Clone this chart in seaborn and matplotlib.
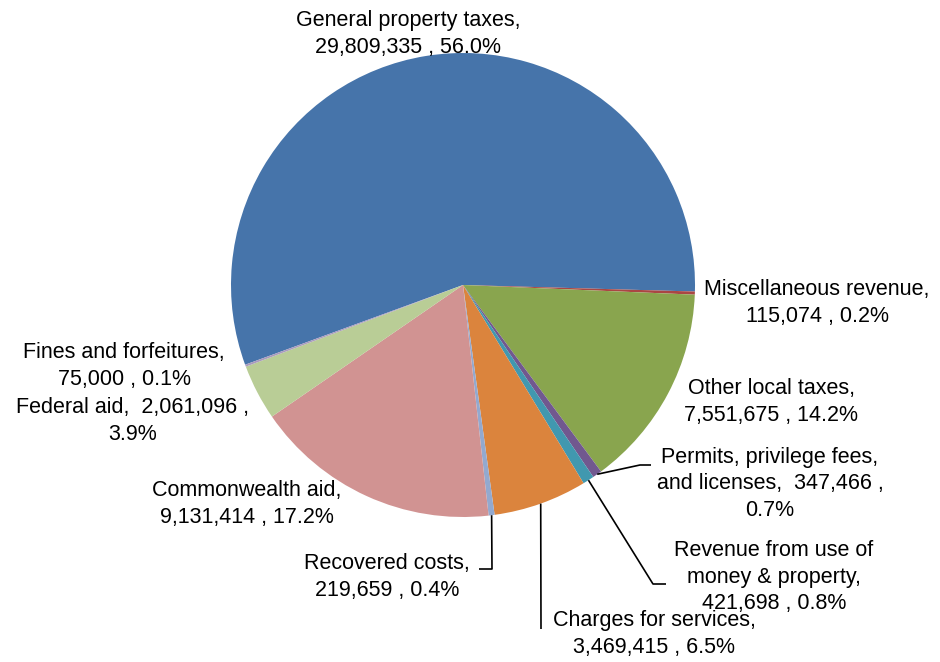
import matplotlib
matplotlib.use("Agg")
import matplotlib.pyplot as plt
import numpy as np
import seaborn as sns

# Revenue sources, in pie order (clockwise)
categories = [
    "General property taxes",
    "Miscellaneous revenue",
    "Other local taxes",
    "Permits, privilege fees,\nand licenses",
    "Revenue from use of\nmoney & property",
    "Charges for services",
    "Recovered costs",
    "Commonwealth aid",
    "Federal aid",
    "Fines and forfeitures",
]
amounts = [29809335, 115074, 7551675, 347466, 421698,
           3469415, 219659, 9131414, 2061096, 75000]

# how each label wraps: name / amount / percent
label_formats = [
    "{n},\n{v} , {p}",
    "{n},\n{v} , {p}",
    "{n},\n{v} , {p}",
    "{n},  {v} ,\n{p}",
    "{n},\n{v} , {p}",
    "{n},\n{v} , {p}",
    "{n},\n{v} , {p}",
    "{n},\n{v} , {p}",
    "{n},  {v} ,\n{p}",
    "{n},\n{v} , {p}",
]

colors = ["#4674AA", "#AA4643", "#89A54E", "#71588F", "#4198AF",
          "#DB843D", "#93A9CF", "#D19392", "#B9CD96", "#A99BBD"]

sns.set_theme(style="white")
plt.rcParams["font.family"] = ["Liberation Sans", "DejaVu Sans"]

W, H = 940, 662
fig = plt.figure(figsize=(W / 100, H / 100), dpi=100)
ax = fig.add_axes([0, 0, 1, 1])

def P(x, y):
    """pixel position (origin top-left) -> data coordinates"""
    return x, H - y

cx, cy = P(463, 285)
R = 232
wedges, _ = ax.pie(amounts, colors=colors, startangle=200.1, counterclock=False,
                   center=(cx, cy), radius=R, frame=True,
                   wedgeprops=dict(linewidth=0))

ax.set_xlim(0, W)
ax.set_ylim(0, H)
ax.set_aspect("equal")
ax.axis("off")

total = sum(amounts)
labels = [f.format(n=n, v=f"{v:,}", p=f"{100 * v / total:.1f}%")
          for f, n, v in zip(label_formats, categories, amounts)]

# label block centres (pixels)
label_pos = [(408, 34), (817, 303), (771, 402), (770, 484), (774, 577),
             (654, 634), (387, 577), (247, 504), (133, 421), (124, 366)]

for lab, (x, y) in zip(labels, label_pos):
    ax.text(*P(x, y), lab, ha="center", va="center", multialignment="center",
            fontsize=15.5, color="black", linespacing=1.34)

# leader lines from wedge edge to label
leaders = {
    3: [(640, 465), (651, 465)],
    4: [(653, 584), (666, 584)],
    5: [(541, 629)],
    6: [(492, 569), (479, 569)],
}
for i, pts in leaders.items():
    w = wedges[i]
    mid = np.deg2rad((w.theta1 + w.theta2) / 2)
    x0, y0 = cx + R * np.cos(mid), cy + R * np.sin(mid)
    xs = [x0] + [P(*p)[0] for p in pts]
    ys = [y0] + [P(*p)[1] for p in pts]
    ax.plot(xs, ys, color="black", lw=1.2, solid_capstyle="butt")

fig.savefig("out.png", dpi=100, facecolor="white")
